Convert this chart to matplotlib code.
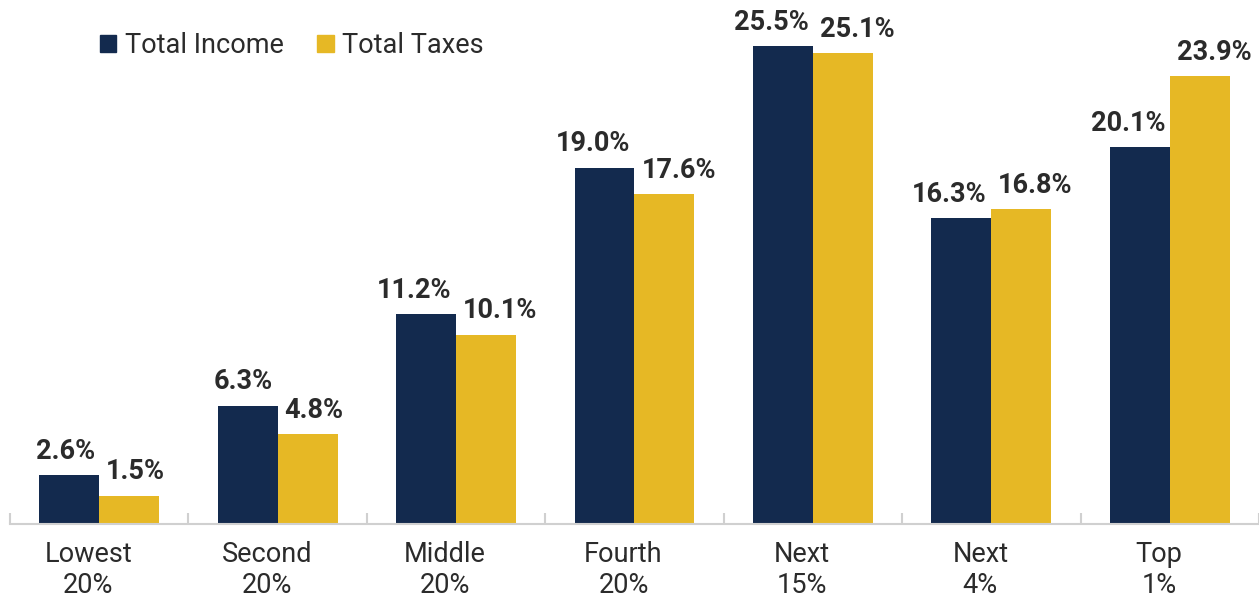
import matplotlib
matplotlib.use("Agg")
import matplotlib.pyplot as plt
import matplotlib.transforms as mtrans
import numpy as np
from matplotlib.patches import Patch

NAVY = "#132a4e"
GOLD = "#e6b825"
INK = "#2b2b2b"

groups = ["Lowest\n20%", "Second\n20%", "Middle\n20%", "Fourth\n20%",
          "Next\n15%", "Next\n4%", "Top\n1%"]
income = [2.6, 6.3, 11.2, 19.0, 25.5, 16.3, 20.1]
taxes = [1.5, 4.8, 10.1, 17.6, 25.1, 16.8, 23.9]

plt.rcParams["font.family"] = ["Roboto", "DejaVu Sans"]

fig = plt.figure(figsize=(12.59, 5.98), dpi=100)
ax = fig.add_axes([10 / 1259, 74 / 598, 1 - 10 / 1259, 524 / 598])

x = np.arange(len(groups))
w = 0.336
b1 = ax.bar(x - w / 2, income, w, color=NAVY, label="Total Income", clip_on=False)
b2 = ax.bar(x + w / 2, taxes, w, color=GOLD, label="Total Taxes", clip_on=False)

# income labels hug the right edge of their bar, tax labels the left edge
for r, v in zip(b1, income):
    ax.annotate(f"{v:.1f}%", (r.get_x() + r.get_width(), v),
                xytext=(-3.3, 7.5), textcoords="offset points",
                ha="right", va="bottom", fontsize=19.5, fontweight="bold",
                color=INK, annotation_clip=False)
for r, v in zip(b2, taxes):
    ax.annotate(f"{v:.1f}%", (r.get_x(), v),
                xytext=(5, 7.5), textcoords="offset points",
                ha="left", va="bottom", fontsize=19.5, fontweight="bold",
                color=INK, annotation_clip=False)

ax.set_xlim(-0.5, len(groups) - 0.5)
ax.set_ylim(0, 27.95)
for s in ("top", "right", "left"):
    ax.spines[s].set_visible(False)
ax.spines["bottom"].set_color("#d0d0d0")
ax.spines["bottom"].set_linewidth(1.5)
ax.set_yticks([])
ax.set_xticks(np.arange(-0.5, len(groups), 1.0))
ax.set_xticklabels([])
ax.tick_params(axis="x", direction="in", length=8, color="#d0d0d0", width=1.5)
ax.set_xticks(x, minor=True)
ax.set_xticklabels(groups, minor=True, fontsize=19.5, color=INK, linespacing=1.22)
ax.tick_params(axis="x", which="minor", length=0, pad=12)
# category labels sit a little left of the group centre in the original
shift = mtrans.ScaledTranslation(-11 / 100, 0, fig.dpi_scale_trans)
for lab in ax.get_xticklabels(minor=True):
    lab.set_transform(lab.get_transform() + shift)

ax.legend(handles=[Patch(color=NAVY, label="Total Income"),
                   Patch(color=GOLD, label="Total Taxes")],
          loc="upper left", bbox_to_anchor=(0.057, 0.975), ncol=2, frameon=False,
          fontsize=19.5, handlelength=0.6, handleheight=0.6, handletextpad=0.3,
          columnspacing=1.25, labelcolor=INK, borderaxespad=0.3)

fig.savefig("out.png", dpi=100)
